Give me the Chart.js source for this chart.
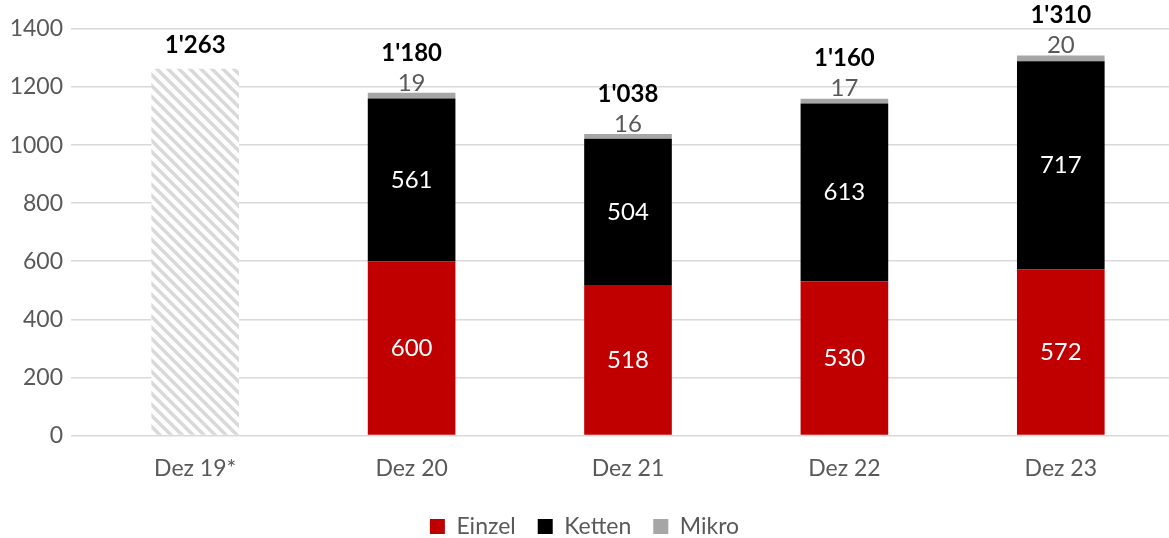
<!DOCTYPE html>
<html>
<head>
<meta charset="utf-8">
<script src="https://cdn.jsdelivr.net/npm/chart.js@4"></script>
<style>
	html, body { margin: 0; padding: 0; background: #fff; }
	#wrap { width: 1169px; height: 538px; }
</style>
</head>
<body>
<div id="wrap"><canvas id="chart"></canvas></div>
<script>
const categories = ['Dez 19*', 'Dez 20', 'Dez 21', 'Dez 22', 'Dez 23']
const einzel = [null, 600, 518, 530, 572]
const ketten = [null, 561, 504, 613, 717]
const mikro = [null, 19, 16, 17, 20]
const total19 = [1263, null, null, null, null]
const totals = ["1'263", "1'180", "1'038", "1'160", "1'310"]
const yTicks = [0, 200, 400, 600, 800, 1000, 1200, 1400]

const font = "Lato, 'Open Sans', sans-serif"

const hatch = () => {
	const c = document.createElement('canvas')
	c.width = 11
	c.height = 11
	const g = c.getContext('2d')
	g.fillStyle = '#fff'
	g.fillRect(0, 0, 11, 11)
	g.strokeStyle = '#d9d9d9'
	g.lineWidth = 3.5
	g.beginPath()
	g.moveTo(-2, -2); g.lineTo(13, 13)
	g.moveTo(-2, 9); g.lineTo(2, 13)
	g.moveTo(9, -2); g.lineTo(13, 2)
	g.stroke()
	return g.createPattern(c, 'repeat')
}

const labelPlugin = {
	id: 'labels',
	afterDatasetsDraw(chart) {
		const ctx = chart.ctx
		ctx.save()
		ctx.textAlign = 'center'
		ctx.textBaseline = 'middle'
		// values inside segments
		;[0, 1].forEach(di => {
			chart.getDatasetMeta(di).data.forEach((bar, i) => {
				const v = chart.data.datasets[di].data[i]
				if (v == null) return
				ctx.font = '24px ' + font
				ctx.fillStyle = '#fff'
				ctx.fillText(v, bar.x, (bar.y + bar.base) / 2)
			})
		})
		chart.getDatasetMeta(2).data.forEach((bar, i) => {
			const v = mikro[i]
			if (v == null) return
			ctx.font = '24px ' + font
			ctx.fillStyle = '#595959'
			ctx.fillText(v, bar.x, bar.y - 10)
			ctx.font = 'bold 24px ' + font
			ctx.fillStyle = '#000'
			ctx.fillText(totals[i], bar.x, bar.y - 40)
		})
		chart.getDatasetMeta(3).data.forEach((bar, i) => {
			if (total19[i] == null) return
			ctx.font = 'bold 24px ' + font
			ctx.fillStyle = '#000'
			ctx.fillText(totals[i], bar.x, bar.y - 24)
		})
		ctx.restore()
	}
}

new Chart('chart', {
	type: 'bar',
	data: {
		labels: categories,
		datasets: [
			{ label: 'Einzel', data: einzel, backgroundColor: '#c00000' },
			{ label: 'Ketten', data: ketten, backgroundColor: '#000000' },
			{ label: 'Mikro', data: mikro, backgroundColor: '#a6a6a6' },
			{ label: 'Total', data: total19, backgroundColor: hatch() }
		]
	},
	options: {
		responsive: true,
		maintainAspectRatio: false,
		animation: false,
		datasets: { bar: { barPercentage: 0.405, categoryPercentage: 1, borderWidth: 0 } },
		layout: { padding: { top: 29, right: 0, left: 0, bottom: -10 } },
		scales: {
			x: {
				stacked: true,
				grid: { display: false },
				border: { display: true, color: '#d9d9d9' },
				ticks: { color: '#595959', font: { family: font, size: 23 }, padding: 11 }
			},
			y: {
				stacked: true,
				min: 0,
				max: 1400,
				afterBuildTicks: axis => { axis.ticks = yTicks.map(v => ({ value: v })) },
				afterFit: axis => { axis.width = 87 },
				grid: { color: '#d9d9d9', lineWidth: 1.5, drawTicks: true, tickLength: 16, tickColor: '#d9d9d9' },
				border: { display: false },
				ticks: { color: '#595959', font: { family: font, size: 23 }, padding: 8, callback: v => String(v) }
			}
		},
		plugins: {
			legend: {
				position: 'bottom',
				labels: {
					filter: item => item.text !== 'Total',
					color: '#595959',
					font: { family: font, size: 23 },
					boxWidth: 15,
					boxHeight: 15,
					padding: 22
				}
			},
			tooltip: { enabled: false }
		}
	},
	plugins: [labelPlugin]
})
</script>
</body>
</html>
